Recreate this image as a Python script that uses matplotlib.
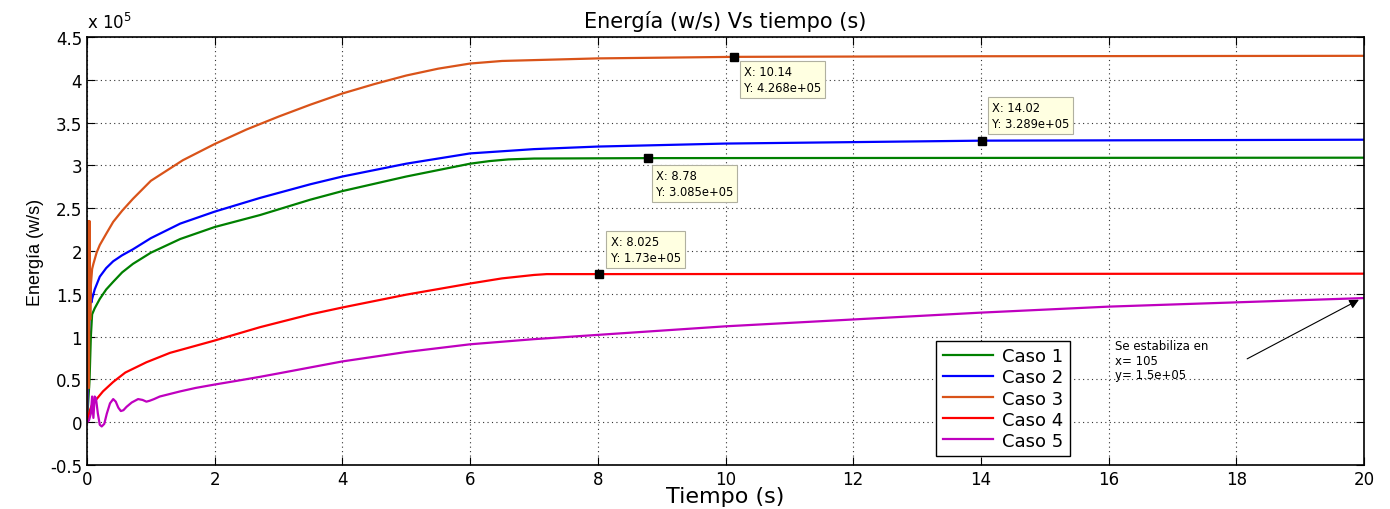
import matplotlib
matplotlib.use("Agg")
import matplotlib.pyplot as plt

plt.rcParams['font.family'] = ['DejaVu Sans']

# Energy curves, values in units of 1e5 (w/s)
t1 = [0, 0.04, 0.06, 0.08, 0.12, 0.2, 0.3, 0.41, 0.55, 0.72, 1, 1.46, 2, 2.71, 3.5, 4, 5, 6,
      6.3, 6.6, 7, 8.78, 20]
e1 = [0, 0.5, 1.0, 1.26, 1.33, 1.44, 1.55, 1.64, 1.75, 1.85, 1.98, 2.14, 2.28, 2.42, 2.6, 2.70,
      2.87, 3.02, 3.05, 3.07, 3.08, 3.085, 3.09]

t2 = [0, 0.03, 0.05, 0.07, 0.08, 0.12, 0.2, 0.3, 0.41, 0.55, 0.72, 1, 1.46, 2, 2.71, 3.5, 4,
      5, 6, 7, 8, 10, 14.02, 20]
e2 = [0, 1.0, 1.65, 1.4, 1.44, 1.55, 1.70, 1.80, 1.88, 1.95, 2.02, 2.15, 2.32, 2.46, 2.62, 2.78,
      2.87, 3.02, 3.14, 3.19, 3.22, 3.255, 3.289, 3.30]

t3 = [0, 0.02, 0.03, 0.04, 0.05, 0.06, 0.08, 0.1, 0.15, 0.2, 0.3, 0.41, 0.55, 0.72, 1, 1.5, 2,
      2.5, 3, 3.5, 4, 4.5, 5, 5.5, 6, 6.5, 8, 10.14, 14, 20]
e3 = [0, 2.35, 0.4, 2.35, 1.2, 1.6, 1.79, 1.85, 1.98, 2.07, 2.2, 2.34, 2.47, 2.61, 2.82, 3.06, 3.25,
      3.42, 3.57, 3.71, 3.84, 3.95, 4.05, 4.13, 4.19, 4.22, 4.25, 4.268, 4.275, 4.28]

t4 = [0, 0.05, 0.1, 0.15, 0.25, 0.41, 0.6, 0.93, 1.3, 1.98, 2.71, 3.5, 4, 5, 6, 6.5, 7, 7.2,
      8.025, 20]
e4 = [0, 0.15, 0.24, 0.27, 0.36, 0.47, 0.58, 0.70, 0.81, 0.95, 1.11, 1.26, 1.34, 1.49, 1.62,
      1.68, 1.72, 1.73, 1.73, 1.735]

t5 = [0, 0.03, 0.06, 0.08, 0.1, 0.12, 0.14, 0.17, 0.2, 0.23, 0.27, 0.31, 0.36, 0.41, 0.45, 0.49,
      0.53, 0.57, 0.62, 0.7, 0.8, 0.87, 0.93, 0.98, 1.05, 1.14, 1.3, 1.46, 1.7, 2, 2.4, 2.71, 3,
      4, 5, 6, 7, 8, 10, 12, 14, 16, 18, 20]
e5 = [0, 0.02, 0.1, 0.3, 0.05, 0.3, 0.28, 0.1, -0.03, -0.05, -0.02, 0.1, 0.22, 0.27, 0.24, 0.17,
      0.13, 0.14, 0.18, 0.23, 0.27, 0.26, 0.24, 0.25, 0.27, 0.3, 0.33, 0.36, 0.4, 0.44, 0.49, 0.53,
      0.57, 0.71, 0.82, 0.91, 0.97, 1.02, 1.12, 1.2, 1.28, 1.35, 1.40, 1.45]

labels = ['Caso 1', 'Caso 2', 'Caso 3', 'Caso 4', 'Caso 5']
colors = ['#008000', '#0000FF', '#D95319', '#FF0000', '#BF00BF']

# Data tips: (x, y in 1e5, label text, text offset in points, vertical anchor)
tip_x = [10.14, 14.02, 8.78, 8.025]
tip_y = [4.268, 3.289, 3.085, 1.73]
tip_txt = ['X: 10.14\nY: 4.268e+05', 'X: 14.02\nY: 3.289e+05',
           'X: 8.78\nY: 3.085e+05', 'X: 8.025\nY: 1.73e+05']
tip_off = [(7, -6), (7, 8), (6, -8), (8, 7)]
tip_va = ['top', 'bottom', 'top', 'bottom']

xticks = list(range(0, 21, 2))
yticks = [-0.5, 0, 0.5, 1, 1.5, 2, 2.5, 3, 3.5, 4, 4.5]
yticklabels = ['-0.5', '0', '0.5', '1', '1.5', '2', '2.5', '3', '3.5', '4', '4.5']

fig = plt.figure(figsize=(13.9, 5.1), dpi=100)
ax = fig.add_axes([0.0626, 0.0863, 0.9187, 0.8392])

for t, e, c, lb in zip([t1, t2, t3, t4, t5], [e1, e2, e3, e4, e5], colors, labels):
    ax.plot(t, e, color=c, lw=1.6, label=lb)

for x, y, s, off, va in zip(tip_x, tip_y, tip_txt, tip_off, tip_va):
    ax.plot([x], [y], marker='s', ms=6, color='black', zorder=5)
    ax.annotate(s, xy=(x, y), xytext=off, textcoords='offset points',
                fontsize=8.3, va=va, ha='left', linespacing=1.3,
                bbox=dict(boxstyle='square,pad=0.35', fc='#FFFFE1', ec='#B0B0A0', lw=0.8),
                zorder=6)

ax.text(16.1, 0.48, 'Se estabiliza en\nx= 105\ny= 1.5e+05', fontsize=8.5,
        ha='left', va='bottom', linespacing=1.15)
ax.annotate('', xy=(19.92, 1.43), xytext=(18.17, 0.74),
            arrowprops=dict(arrowstyle='-|>', color='black', lw=0.8,
                            shrinkA=0, shrinkB=0, mutation_scale=14))

ax.set_xlim(0, 20)
ax.set_ylim(-0.5, 4.5)
ax.set_xticks(xticks)
ax.set_yticks(yticks)
ax.set_yticklabels(yticklabels)
ax.tick_params(direction='in', top=True, right=True, labelsize=12, length=6)
ax.grid(True, linestyle=(0, (1, 3)), color='#333333', lw=0.8)
for sp in ax.spines.values():
    sp.set_linewidth(1.2)

ax.text(0.0, 1.012, r'x 10$^{5}$', transform=ax.transAxes, fontsize=12, ha='left', va='bottom')

ax.set_title('Energía (w/s) Vs tiempo (s)', fontsize=15, pad=7)
ax.set_xlabel('Tiempo (s)', fontsize=16, labelpad=-1)
ax.set_ylabel('Energía (w/s)', fontsize=13, labelpad=4, family=['Liberation Sans'])

leg = ax.legend(loc='lower left', bbox_to_anchor=(0.665, 0.021), borderaxespad=0, fontsize=13,
                fancybox=False, edgecolor='black', framealpha=1,
                handlelength=2.8, borderpad=0.35, labelspacing=0.17, handletextpad=0.5)
leg.get_frame().set_linewidth(1.0)

fig.savefig('out.png', dpi=100)
